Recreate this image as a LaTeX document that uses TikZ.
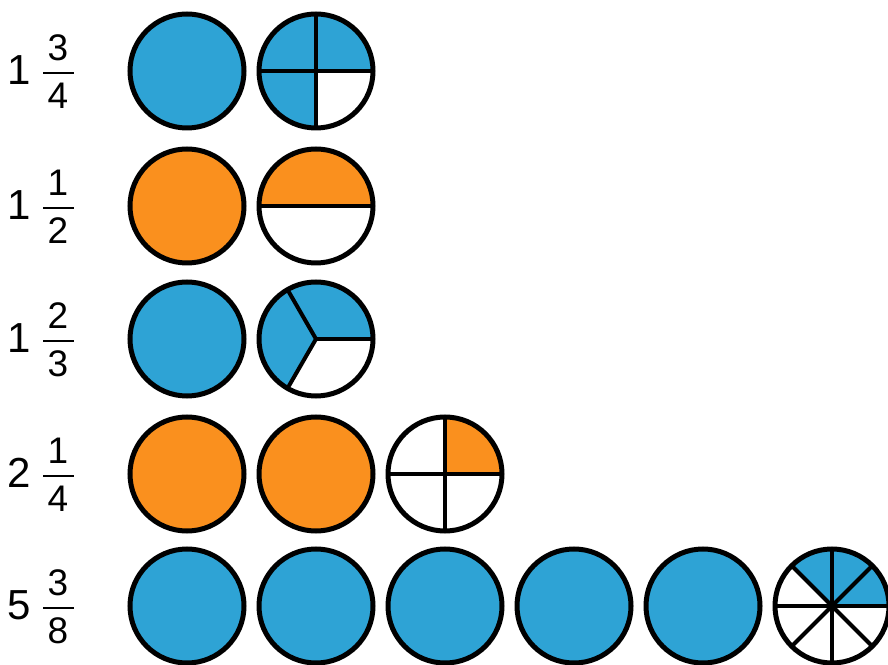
\documentclass[tikz,border=0pt]{standalone}
\usepackage{fontspec}
\setmainfont{Liberation Sans}
\definecolor{PieBlue}{RGB}{46,163,213}
\definecolor{PieOrange}{RGB}{250,144,30}

\begin{document}
\begin{tikzpicture}[x=1pt, y=1pt,
            disc/.style={draw=black, line width=5pt},
            spoke/.style={black, line width=4pt},
            whole/.style={inner sep=0pt, font=\fontsize{42}{42}\selectfont},
            digit/.style={inner sep=0pt, font=\fontsize{37}{37}\selectfont},
            bar/.style={line width=2.5pt}
        ]
            \useasboundingbox (0,0) rectangle (888,664);
            \foreach \r/\y/\w/\num/\den/\col in {1/593/1/3/4/PieBlue, 2/458/1/1/2/PieOrange, 3/325/1/2/3/PieBlue, 4/190/2/1/4/PieOrange, 5/58/5/3/8/PieBlue} {
                % mixed number
                \node[whole] (w\r) at (19,\y+1) {\w};
                \node[digit] (n\r) at (58,\y+23) {\num};
                \node[digit] (d\r) at (58,\y-25) {\den};
                \draw[bar] (43,\y-2) -- (74,\y-2);
                % whole circles
                \foreach \i in {1,...,\w} {
                    \coordinate (c\r-\i) at (58+129*\i,\y);
                    \draw[disc, fill=\col] (c\r-\i) circle (57);
                }
                % the part
                \pgfmathtruncatemacro{\k}{\w+1}
                \pgfmathsetmacro{\ang}{360*\num/\den}
                \coordinate (p\r) at (58+129*\k,\y);
                \fill[\col] (p\r) -- ++(0:57) arc (0:\ang:57) -- cycle;
                \foreach \j in {1,...,\den} {
                    \draw[spoke] (p\r) -- ++(360*\j/\den:57);
                }
                \draw[disc] (p\r) circle (57);
            }
        \end{tikzpicture}
\end{document}
